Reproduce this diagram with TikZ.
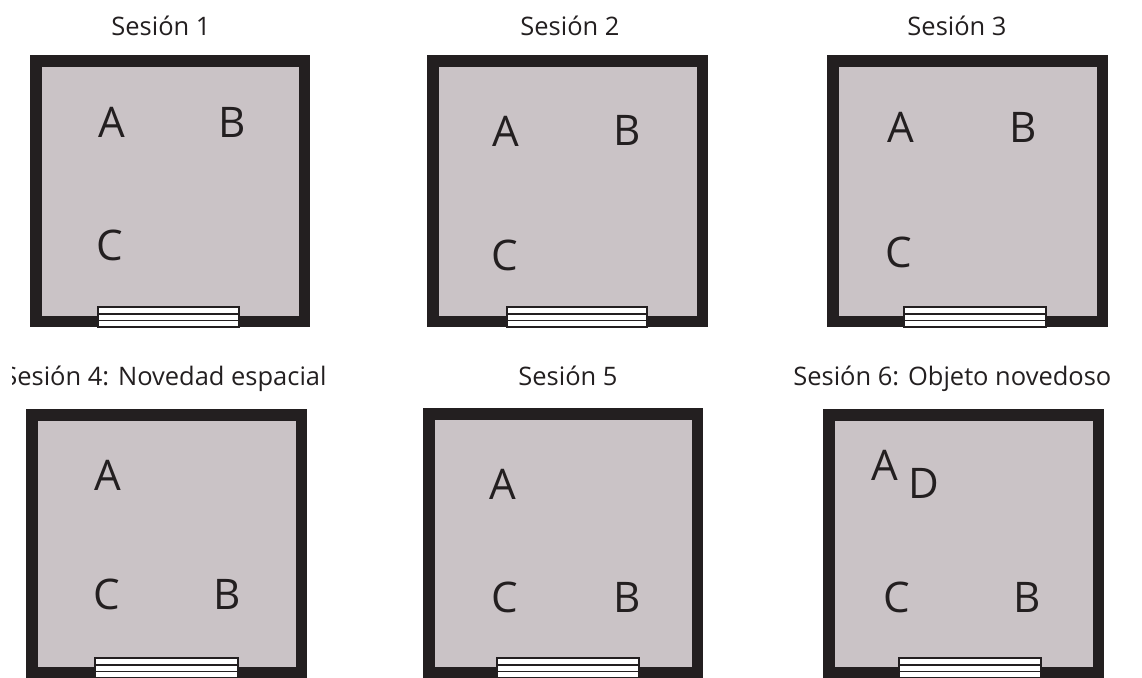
\documentclass[tikz,border=0pt]{standalone}
\usepackage{fontspec}
\setmainfont{Open Sans}
\definecolor{wallcol}{RGB}{35,31,32}
\definecolor{floorcol}{RGB}{202,195,198}

\begin{document}
\begin{tikzpicture}[x=0.02cm,y=-0.02cm,
  wall/.style={fill=wallcol},
  floorarea/.style={fill=floorcol},
  door/.style={draw=wallcol,fill=white,line width=0.9pt},
  obj/.style={font=\fontsize{24}{24}\selectfont,text=wallcol,inner sep=0pt},
  title/.style={font=\fontsize{14.5}{15}\selectfont,text=wallcol,inner sep=0pt}]
\useasboundingbox (0,0) rectangle (1142,677);
\clip (0,0) rectangle (1142,677);
% rooms: walls, floor, door at the bottom
\foreach \n/\xa/\ya/\xb/\yb/\da/\db in {1/30/55/310/327/98/239, 2/427/55/708/327/507/647,
  3/827/55/1108/327/904/1046, 4/26/409/307/678/95/238, 5/423/408/703/678/497/639,
  6/823/409/1104/678/899/1041} {
  \fill[wall] (\xa,\ya) rectangle (\xb,\yb);
  \fill[floorarea] (\xa+12,\ya+12) rectangle (\xb-11,\yb-11);
  \draw[door] (\da,\yb-20) rectangle (\db,\yb);
  \draw[wallcol,line width=0.9pt] (\da,\yb-13.3) -- (\db,\yb-13.3) (\da,\yb-6.7) -- (\db,\yb-6.7);
}
% objects in each room
\foreach \r/\o/\x/\y in {1/A/112/122, 1/B/232/122, 1/C/110/245,
  2/A/506/131, 2/B/627/130, 2/C/505/255,
  3/A/901/127, 3/B/1023/127, 3/C/899/252,
  4/A/108/475, 4/C/107/594, 4/B/227/594,
  5/A/503/484, 5/C/505/597, 5/B/627/597,
  6/A/885/465, 6/D/924/483, 6/C/897/597, 6/B/1027/597} {
  \node[obj] (\o\r) at (\x,\y) {\o};
}
% session titles
\node[title,anchor=base] (t1) at (161,35) {Sesión 1};
\node[title,anchor=base] (t2) at (570,35) {Sesión 2};
\node[title,anchor=base] (t3) at (957,35) {Sesión 3};
\begin{scope}
  % left edge of this title is cut off
  \clip (12,350) rectangle (400,400);
  \node[title,anchor=base west] (t4) at (3,385) {Sesión 4: Novedad espacial};
\end{scope}
\node[title,anchor=base] (t5) at (568,385) {Sesión 5};
\node[title,anchor=base west] (t6) at (793,385) {Sesión 6: Objeto novedoso};
\end{tikzpicture}
\end{document}
